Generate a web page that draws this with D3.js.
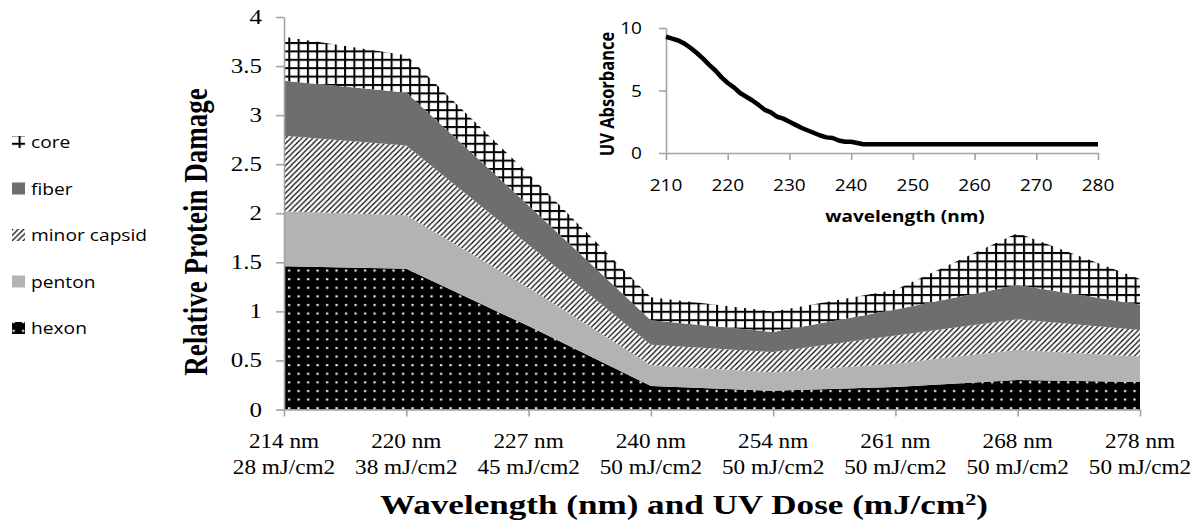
<!DOCTYPE html>
<html><head><meta charset="utf-8">
<script src="https://cdn.jsdelivr.net/npm/d3@7"></script>
<style>body{margin:0;background:#fff;overflow:hidden}</style>
</head><body><svg id="c" width="1200" height="521"></svg>
<script>
// ---------- data ----------
const wavelengths = ["214 nm","220 nm","227 nm","240 nm","254 nm","261 nm","268 nm","278 nm"];
const doses = ["28 mJ/cm2","38 mJ/cm2","45 mJ/cm2","50 mJ/cm2","50 mJ/cm2","50 mJ/cm2","50 mJ/cm2","50 mJ/cm2"];
const hexon       = [1.46, 1.435, 0.85, 0.24, 0.19, 0.23, 0.30, 0.28];
const penton      = [0.56, 0.545, 0.39, 0.21, 0.19, 0.24, 0.31, 0.26];
const minorCapsid = [0.77, 0.71, 0.44, 0.21, 0.205, 0.285, 0.31, 0.27];
const fiber       = [0.56, 0.54, 0.40, 0.25, 0.205, 0.265, 0.35, 0.26];
const core        = [0.45, 0.38, 0.32, 0.235, 0.21, 0.20, 0.53, 0.26];
const seriesNames = ["hexon","penton","minor capsid","fiber","core"];
const legendOrder = ["core","fiber","minor capsid","penton","hexon"];
const yTicks = [0, 0.5, 1, 1.5, 2, 2.5, 3, 3.5, 4];
const yTickLabels = ["0","0.5","1","1.5","2","2.5","3","3.5","4"];

const uvWavelength = [210,211,212,213,214,215,216,217,218,219,220,221,222,223,224,225,226,227,228,229,230,231,232,233,234,235,236,237,238,239,240,241,242,250,260,270,280];
const uvAbsorbance = [9.3,9.15,9.0,8.75,8.4,8.0,7.55,7.05,6.6,6.05,5.6,5.25,4.8,4.5,4.2,3.85,3.45,3.25,2.9,2.75,2.5,2.25,2.0,1.8,1.6,1.4,1.25,1.2,1.0,0.9,0.9,0.8,0.7,0.7,0.7,0.7,0.7];
const uvXTicks = [210,220,230,240,250,260,270,280];
const uvYTicks = [0,5,10];

// ---------- setup ----------
const svg = d3.select("#c");
const defs = svg.append("defs");
const AX = "#a3a3a3";

// patterns
const pHex = defs.append("pattern").attr("id","pHex").attr("patternUnits","userSpaceOnUse")
  .attr("width",9.5).attr("height",8.6);
pHex.append("rect").attr("width",9.5).attr("height",8.6).attr("fill","#000");
pHex.append("rect").attr("x",3).attr("y",3).attr("width",2.2).attr("height",2).attr("fill","#fff");

const pMin = defs.append("pattern").attr("id","pMin").attr("patternUnits","userSpaceOnUse")
  .attr("width",5.5).attr("height",5.5);
pMin.append("rect").attr("width",5.5).attr("height",5.5).attr("fill","#fff");
pMin.append("path").attr("d","M0,5.5L5.5,0M-1.5,1.5L1.5,-1.5M4,7L7,4")
  .attr("stroke","#000").attr("stroke-width",1.15);

const pCore = defs.append("pattern").attr("id","pCore").attr("patternUnits","userSpaceOnUse")
  .attr("width",9.3).attr("height",8.4);
pCore.append("rect").attr("width",9.3).attr("height",8.4).attr("fill","#fff");
pCore.append("rect").attr("x",0).attr("y",0).attr("width",2).attr("height",8.4).attr("fill","#000");
pCore.append("rect").attr("x",0).attr("y",0).attr("width",9.3).attr("height",2).attr("fill","#000");

const fills = {"hexon":"url(#pHex)","penton":"#b3b3b3","minor capsid":"url(#pMin)","fiber":"#6e6e6e","core":"url(#pCore)"};

function label(g, x, y, s, o) {
  const t = g.append("text")
    .attr("transform", `translate(${x},${y}) scale(${o.sx||1},1)` + (o.rot ? ` rotate(${o.rot})` : ""))
    .attr("text-anchor", o.anchor || "start")
    .attr("font-family", o.family)
    .attr("font-size", o.size)
    .attr("font-weight", o.weight || "normal")
    .attr("fill", "#000");
  t.text(s);
  return t;
}

// ---------- main chart ----------
const x = d3.scalePoint().domain(d3.range(wavelengths.length)).range([284, 1140]);
const y = d3.scaleLinear().domain([0, 4]).range([409.5, 17]);

const rows = wavelengths.map((w, i) => ({
  "hexon": hexon[i], "penton": penton[i], "minor capsid": minorCapsid[i], "fiber": fiber[i], "core": core[i]
}));
const stacked = d3.stack().keys(seriesNames)(rows);
const area = d3.area().x((d, i) => x(i)).y0(d => y(d[0])).y1(d => y(d[1]));

svg.append("g").selectAll("path").data(stacked).join("path")
  .attr("d", area).attr("fill", d => fills[d.key]);

// y axis
const gy = svg.append("g").attr("transform", "translate(284,0)")
  .call(d3.axisLeft(y).tickValues(yTicks).tickFormat("").tickSize(8).tickSizeOuter(0));
gy.selectAll("path,line").attr("stroke", AX).attr("stroke-width", 1.6);
yTicks.forEach((v, i) => label(svg, 262, y(v) + 7, yTickLabels[i],
  {family:"'Liberation Serif', 'Times New Roman', serif", size:20, sx:1.25, anchor:"end"}));

// x axis
const gx = svg.append("g").attr("transform", "translate(0,409.5)")
  .call(d3.axisBottom(x).tickFormat("").tickSize(7).tickSizeOuter(0));
gx.selectAll("path,line").attr("stroke", AX).attr("stroke-width", 1.6);
wavelengths.forEach((w, i) => {
  label(svg, x(i), 448, w, {family:"'Liberation Serif', serif", size:20, sx:1.16, anchor:"middle"});
  label(svg, x(i), 474, doses[i], {family:"'Liberation Serif', serif", size:20, sx:1.16, anchor:"middle"});
});

// axis titles
const xt = label(svg, 684, 514, "", {family:"'Liberation Serif', serif", size:27, weight:"bold", sx:1.3, anchor:"middle"});
xt.append("tspan").text("Wavelength (nm) and UV Dose (mJ/cm");
xt.append("tspan").attr("font-size", 17).attr("dy", -9).text("2");
xt.append("tspan").attr("dy", 9).text(")");
label(svg, 207, 232, "Relative Protein Damage",
  {family:"'Liberation Serif', serif", size:27, weight:"bold", sx:1.25, rot:-90, anchor:"middle"});

// legend
legendOrder.forEach((n, i) => {
  const cy = 142 + i * 46.5;
  svg.append("rect").attr("x", 12).attr("y", cy - 6).attr("width", 13).attr("height", 12).attr("fill", fills[n]);
  label(svg, 31, cy + 6, n, {family:"'Open Sans', sans-serif", size:17, sx:1.13});
});

// ---------- inset ----------
const xi = d3.scaleLinear().domain([210, 280]).range([666, 1098]);
const yi = d3.scaleLinear().domain([0, 10]).range([153, 28]);

const giy = svg.append("g").attr("transform", "translate(666,0)")
  .call(d3.axisLeft(yi).tickValues(uvYTicks).tickFormat("").tickSize(7).tickSizeOuter(0));
giy.selectAll("path,line").attr("stroke", AX).attr("stroke-width", 1.6);
const gix = svg.append("g").attr("transform", "translate(0,153)")
  .call(d3.axisBottom(xi).tickValues(uvXTicks).tickFormat("").tickSize(7).tickSizeOuter(0));
gix.selectAll("path,line").attr("stroke", AX).attr("stroke-width", 1.6);

uvYTicks.forEach(v => label(svg, 642, yi(v) + 6, String(v), {family:"'Open Sans', sans-serif", size:17, sx:1.12, anchor:"end"}));
uvXTicks.forEach(v => label(svg, xi(v), 191, String(v), {family:"'Open Sans', sans-serif", size:17, sx:1.12, anchor:"middle"}));

svg.append("path").datum(uvWavelength.map((w, i) => [w, uvAbsorbance[i]]))
  .attr("d", d3.line().x(d => xi(d[0])).y(d => yi(d[1])))
  .attr("fill", "none").attr("stroke", "#000").attr("stroke-width", 4.5).attr("stroke-linejoin", "round");

label(svg, 614, 94, "UV Absorbance", {family:"'Open Sans', sans-serif", size:16.5, weight:"bold", sx:1.15, rot:-90, anchor:"middle"});
label(svg, 905, 222, "wavelength (nm)", {family:"'Open Sans', sans-serif", size:16.5, weight:"bold", sx:1.15, anchor:"middle"});
</script>
</body></html>
